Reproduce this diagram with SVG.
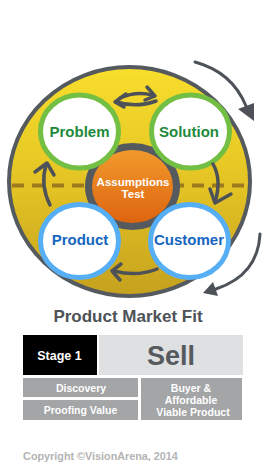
<svg xmlns="http://www.w3.org/2000/svg" width="264" height="476" viewBox="0 0 264 476">
<style>
.t{font-family:"Liberation Sans",Arial,sans-serif;font-weight:bold;text-anchor:middle}
.ring{fill:#fff;stroke-width:5}
.g{stroke:#72bf44}
.b{stroke:#56aef5}
.gt{fill:#1e8a3c;font-size:15px}
.bt{fill:#1565c0;font-size:15px}
.arr{fill:none;stroke:#4d5258;stroke-width:3.5;stroke-linecap:round;stroke-linejoin:round}
.big{fill:none;stroke:#4d5258;stroke-width:3;stroke-linecap:round}
.head{fill:#4d5258}
.box{fill:#a3a5a7}
.bx{fill:#fff;font-size:10.5px}
</style>
<defs>
<linearGradient id="yel" x1="0" y1="0" x2="0" y2="1">
<stop offset="0" stop-color="#f8de2c"/>
<stop offset="0.5" stop-color="#e4c424"/>
<stop offset="1" stop-color="#c5a11e"/>
</linearGradient>
<linearGradient id="org" x1="0" y1="0" x2="0" y2="1">
<stop offset="0" stop-color="#f29a2c"/>
<stop offset="1" stop-color="#de6410"/>
</linearGradient>
</defs>
<rect width="264" height="476" fill="#fff"/>
<g id="wheel">
<ellipse cx="129.5" cy="181.5" rx="120.5" ry="114.5" fill="url(#yel)" stroke="#555a5f" stroke-width="4"/>
<line x1="12" y1="185.5" x2="247" y2="185.5" stroke="#9e7a1e" stroke-width="4" stroke-dasharray="12 8"/>
</g>
<g id="assumptions">
<ellipse cx="132.5" cy="186.5" rx="47.5" ry="43.5" fill="#555a5f"/>
<ellipse cx="132.5" cy="186.5" rx="40.5" ry="36.5" fill="url(#org)"/>
<text class="t" x="133" y="185.5" font-size="11.5" fill="#fff">Assumptions</text>
<text class="t" x="133" y="198" font-size="11.5" fill="#fff">Test</text>
</g>
<g id="problem">
<ellipse class="ring g" cx="79.5" cy="131.5" rx="39" ry="36.5"/>
<text class="t gt" x="79.5" y="137">Problem</text>
</g>
<g id="solution">
<ellipse class="ring g" cx="190.5" cy="131.5" rx="39" ry="36.5"/>
<text class="t gt" x="189" y="137">Solution</text>
</g>
<g id="product">
<ellipse class="ring b" cx="79.5" cy="241" rx="39" ry="36.5"/>
<text class="t bt" x="80" y="245">Product</text>
</g>
<g id="customer">
<ellipse class="ring b" cx="189.5" cy="241" rx="39" ry="36.5"/>
<text class="t bt" x="189" y="245">Customer</text>
</g>
<g id="connectors">
<path class="arr" d="M120 98 Q136 91 152 95"/>
<path class="arr" d="M147 87 L155 96 L145 100"/>
<path class="arr" d="M156 101 Q137 108 116 102"/>
<path class="arr" d="M126 94 L115 102 L124 107"/>
<path class="arr" d="M213 164 Q222 180 215 202"/>
<path class="arr" d="M210 189 L215 203 L231 194"/>
<path class="arr" d="M50 205 Q40 185 46 165"/>
<path class="arr" d="M35 172 L47 163 L54 175"/>
<path class="arr" d="M157 269 Q137 277 114 271"/>
<path class="arr" d="M121 264 L112 271 L120 280"/>
<path class="big" d="M195 62 Q232 72 246 106"/>
<polygon class="head" points="238,109 254,103 254,121"/>
<path class="big" d="M260 234 Q258 275 216 289"/>
<polygon class="head" points="203,293 213,282 218,296"/>
</g>
<g id="title">
<text class="t" x="128" y="322" font-size="17" fill="#4d5257">Product Market Fit</text>
</g>
<g id="stage">
<rect x="23" y="335" width="74" height="40" fill="#000"/>
<text class="t" x="59.5" y="360" font-size="12.5" fill="#fff">Stage 1</text>
</g>
<g id="sell">
<rect x="99" y="335" width="144" height="40" fill="#dfe0e1"/>
<text class="t" x="171" y="365" font-size="27" fill="#555a5e">Sell</text>
</g>
<g id="discovery">
<rect class="box" x="23" y="378" width="115" height="19"/>
<text class="t bx" x="81" y="391.5">Discovery</text>
</g>
<g id="proofing">
<rect class="box" x="23" y="400" width="115" height="20"/>
<text class="t bx" x="80.5" y="413.5">Proofing Value</text>
</g>
<g id="buyer">
<rect class="box" x="141" y="378" width="101" height="42"/>
<text class="t bx" x="191" y="391.5">Buyer &amp;</text>
<text class="t bx" x="191" y="403.5">Affordable</text>
<text class="t bx" x="193" y="415.5">Viable Product</text>
</g>
<g id="copyright">
<text class="t" x="100.5" y="460" font-size="10.8" fill="#b3b3b3">Copyright ©VisionArena, 2014</text>
</g>
</svg>
